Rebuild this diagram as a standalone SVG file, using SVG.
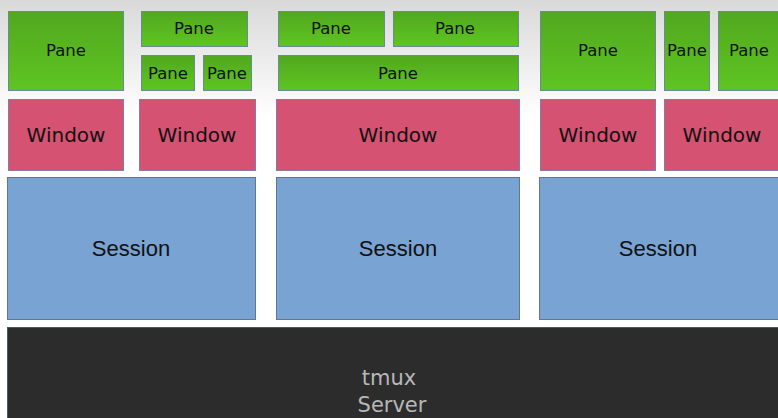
<svg xmlns="http://www.w3.org/2000/svg" width="778" height="418" viewBox="0 0 778 418">
<defs>
<linearGradient id="bg" x1="0" y1="0" x2="0" y2="1">
<stop offset="0" stop-color="#d9d9d9"/>
<stop offset="0.28" stop-color="#ffffff"/>
<stop offset="1" stop-color="#ffffff"/>
</linearGradient>
<linearGradient id="pg" x1="0" y1="0" x2="0" y2="1">
<stop offset="0" stop-color="#51a81f"/>
<stop offset="1" stop-color="#5fc522"/>
</linearGradient>
<style>
.pane rect{fill:url(#pg);stroke:#6a8a98;stroke-width:1}
.pane text{font-family:"DejaVu Sans",sans-serif;font-size:16.5px;fill:#111;text-anchor:middle}
.win rect{fill:#d65272;stroke:#8a7aa0;stroke-width:1}
.win text{font-family:"DejaVu Sans",sans-serif;font-size:20px;fill:#111;text-anchor:middle}
.ses rect{fill:#78a3d2;stroke:#5f7890;stroke-width:1}
.ses text{font-family:"Liberation Sans",Arial,sans-serif;font-size:22px;fill:#111;text-anchor:middle}
.srv rect{fill:#2c2c2c;stroke:#4a5a6a;stroke-width:1}
.srv text{font-family:"DejaVu Sans",sans-serif;font-size:21px;fill:#b8b8b8;text-anchor:middle}
</style>
</defs>
<rect x="0" y="0" width="778" height="418" fill="url(#bg)"/>
<g id="panes">
<g id="pane1" class="pane"><rect x="8.5" y="11.5" width="115" height="79"/><text x="66" y="56">Pane</text></g>
<g id="pane2" class="pane"><rect x="141.5" y="11.5" width="106" height="35"/><text x="194" y="34">Pane</text></g>
<g id="pane3" class="pane"><rect x="141.5" y="55.5" width="53" height="35"/><text x="168" y="79">Pane</text></g>
<g id="pane4" class="pane"><rect x="203.5" y="55.5" width="48" height="35"/><text x="227" y="79">Pane</text></g>
<g id="pane5" class="pane"><rect x="278.5" y="11.5" width="106" height="35"/><text x="331" y="34">Pane</text></g>
<g id="pane6" class="pane"><rect x="393.5" y="11.5" width="125" height="35"/><text x="455" y="34">Pane</text></g>
<g id="pane7" class="pane"><rect x="278.5" y="55.5" width="240" height="35"/><text x="398" y="79">Pane</text></g>
<g id="pane8" class="pane"><rect x="540.5" y="11.5" width="115" height="79"/><text x="598" y="56">Pane</text></g>
<g id="pane9" class="pane"><rect x="664.5" y="11.5" width="45" height="79"/><text x="687" y="56">Pane</text></g>
<g id="pane10" class="pane"><rect x="718.5" y="11.5" width="65" height="79"/><text x="749" y="56">Pane</text></g>
</g>
<g id="windows">
<g id="win1" class="win"><rect x="8.5" y="99.5" width="115" height="71"/><text x="66" y="142">Window</text></g>
<g id="win2" class="win"><rect x="139.5" y="99.5" width="116" height="71"/><text x="197" y="142">Window</text></g>
<g id="win3" class="win"><rect x="276.5" y="99.5" width="243" height="71"/><text x="398" y="142">Window</text></g>
<g id="win4" class="win"><rect x="540.5" y="99.5" width="115" height="71"/><text x="598" y="142">Window</text></g>
<g id="win5" class="win"><rect x="664.5" y="99.5" width="120" height="71"/><text x="722" y="142">Window</text></g>
</g>
<g id="sessions">
<g id="ses1" class="ses"><rect x="7.5" y="177.5" width="248" height="142"/><text x="131" y="256">Session</text></g>
<g id="ses2" class="ses"><rect x="276.5" y="177.5" width="243" height="142"/><text x="398" y="256">Session</text></g>
<g id="ses3" class="ses"><rect x="539.5" y="177.5" width="245" height="142"/><text x="658" y="256">Session</text></g>
</g>
<g id="server" class="srv"><rect x="7.5" y="327.5" width="780" height="100"/><text x="389" y="385">tmux</text><text x="392" y="412">Server</text></g>
<g id="connectors"/>
</svg>
